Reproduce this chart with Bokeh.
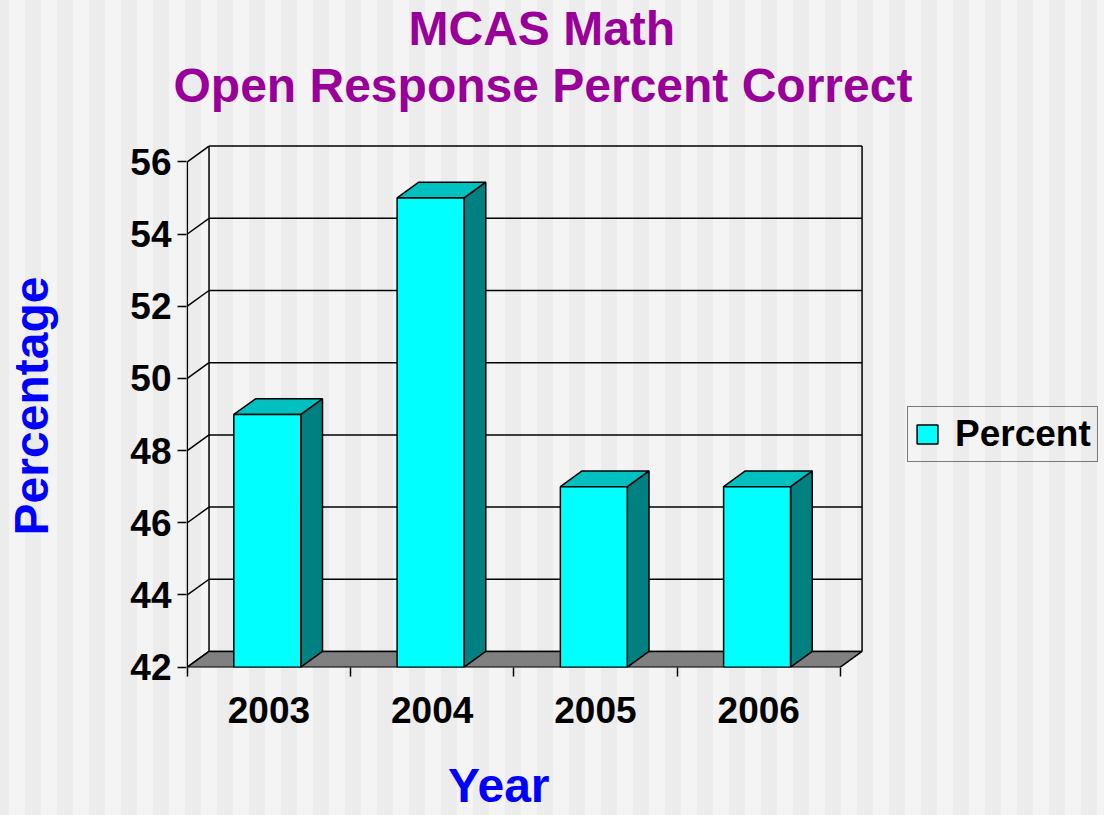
from bokeh.plotting import figure
from bokeh.models import FixedTicker, Legend, LegendItem, Title, Range1d
from bokeh.embed import file_html
from bokeh.resources import INLINE

# ---- data ----
years = ["2003", "2004", "2005", "2006"]
percent = [49, 55, 47, 47]
y_ticks = [42, 44, 46, 48, 50, 52, 54, 56]
y_min, y_max = 42, 56
series_name = "Percent"
title_lines = ["MCAS Math", "Open Response Percent Correct"]
x_title = "Year"
y_title = "Percentage"

# ---- style / 3D geometry ----
FONT = "Liberation Sans"
BAR_W = 0.41
DX = 0.133
DY = 0.435
LW = 1.5
n = len(years)
W, H = 1104, 815
NB = "\u00a0"

p = figure(width=W, height=H, output_backend="svg", toolbar_location=None,
           x_range=Range1d(-0.005, 5.618), y_range=Range1d(41.99, 56.48),
           min_border_left=186, min_border_right=0, min_border_top=144,
           min_border_bottom=148)
p.outline_line_color = None
p.grid.visible = False
p.border_fill_alpha = 0
p.background_fill_alpha = 0
p.styles = {"background": "repeating-linear-gradient(90deg, #ececec 0px 9px, "
                          "#f4f4f4 9px 25px, #ececec 25px 32px)"}

# back wall grid lines
p.segment(x0=[DX] * len(y_ticks), y0=[t + DY for t in y_ticks],
          x1=[n + DX] * len(y_ticks), y1=[t + DY for t in y_ticks],
          line_color="black", line_width=LW)
# left wall diagonals
p.segment(x0=[0] * len(y_ticks), y0=y_ticks, x1=[DX] * len(y_ticks),
          y1=[t + DY for t in y_ticks], line_color="black", line_width=LW)
# back wall verticals and front axis line
p.segment(x0=[DX, n + DX, 0], y0=[y_min + DY, y_min + DY, y_min],
          x1=[DX, n + DX, 0], y1=[y_max + DY, y_max + DY, y_max],
          line_color="black", line_width=LW)
# floor
p.patch([0, n, n + DX, DX], [y_min, y_min, y_min + DY, y_min + DY],
        fill_color="#808080", line_color="black", line_width=LW)

lefts = [i + 0.49 - BAR_W / 2 for i in range(n)]
rights = [l + BAR_W for l in lefts]
side_xs = [[r, r, r + DX, r + DX] for r in rights]
side_ys = [[y_min, v, v + DY, y_min + DY] for v in percent]
top_xs = [[l, r, r + DX, l + DX] for l, r in zip(lefts, rights)]
top_ys = [[v, v, v + DY, v + DY] for v in percent]
p.patches(side_xs, side_ys, fill_color="#008080", line_color="black", line_width=LW)
p.patches(top_xs, top_ys, fill_color="#00c0c0", line_color="black", line_width=LW)
front = p.quad(left=lefts, right=rights, bottom=[y_min] * n, top=percent,
               fill_color="#00ffff", line_color="black", line_width=LW)

# axes
ya = p.yaxis[0]
ya.ticker = FixedTicker(ticks=y_ticks, minor_ticks=[])
ya.axis_line_color = None
ya.major_tick_out = 9
ya.major_tick_in = 0
ya.major_tick_line_width = LW
ya.major_label_standoff = 6
ya.major_label_text_font = FONT
ya.major_label_text_font_size = "37px"
ya.major_label_text_font_style = "bold"
ya.major_label_text_color = "black"
ya.axis_label = y_title
ya.axis_label_text_font = FONT
ya.axis_label_text_font_size = "48px"
ya.axis_label_text_font_style = "bold"
ya.axis_label_text_color = "#0000ff"
ya.axis_label_standoff = 69

xa = p.xaxis[0]
centers = [i + 0.5 for i in range(n)]
xa.bounds = (0, n)
xa.ticker = FixedTicker(ticks=centers, minor_ticks=list(range(n + 1)))
xa.major_label_overrides = {c: y for c, y in zip(centers, years)}
xa.axis_line_color = None
xa.major_tick_out = 0
xa.major_tick_in = 0
xa.minor_tick_out = 9
xa.minor_tick_in = 0
xa.minor_tick_line_color = "black"
xa.minor_tick_line_width = LW
xa.major_label_standoff = 20
xa.major_label_text_font = FONT
xa.major_label_text_font_size = "37px"
xa.major_label_text_font_style = "bold"
xa.major_label_text_color = "black"
# trailing no-break spaces move the centred label left, under the bars
xa.axis_label = x_title + NB * 22
xa.axis_label_text_font = FONT
xa.axis_label_text_font_size = "48px"
xa.axis_label_text_font_style = "bold"
xa.axis_label_text_color = "#0000ff"
xa.axis_label_standoff = 33

# titles
t2 = Title(text=title_lines[1], align="left", offset=-13,
           text_font=FONT, text_font_size="48px", text_font_style="bold",
           text_color="#990099", standoff=66)
t1 = Title(text=title_lines[0], align="left", offset=222,
           text_font=FONT, text_font_size="48px", text_font_style="bold",
           text_color="#990099", standoff=-62)
p.add_layout(t2, "above")
p.add_layout(t1, "above")

legend = Legend(items=[LegendItem(label=series_name, renderers=[front])],
                location=(721, 205), margin=0, padding=6, spacing=0,
                glyph_width=26, glyph_height=24, label_standoff=15,
                border_line_color="black", border_line_width=LW,
                background_fill_alpha=0,
                label_text_font=FONT, label_text_font_size="37px",
                label_text_font_style="bold", label_text_color="black")
p.add_layout(legend, "center")

open("out.html", "w").write(file_html(p, INLINE))
